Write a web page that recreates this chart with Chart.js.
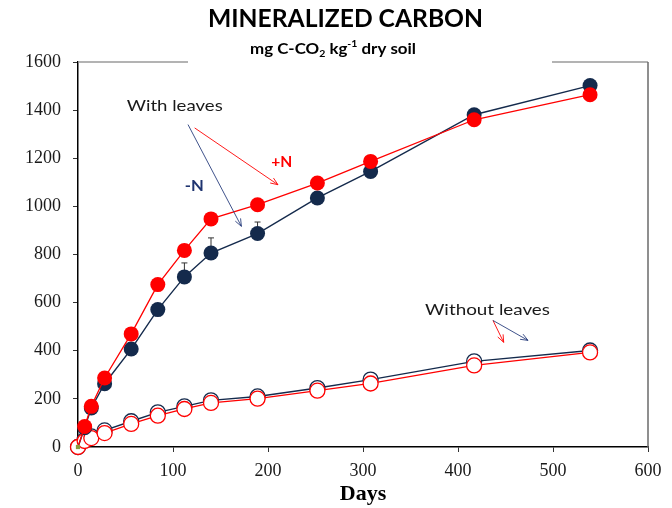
<!DOCTYPE html>
<html><head><meta charset="utf-8">
<script src="https://cdn.jsdelivr.net/npm/chart.js@4"></script>
<style>html,body{margin:0;padding:0;background:#fff}#wrap{width:672px;height:508px;position:relative}</style>
</head><body><div id="wrap"><canvas id="c"></canvas></div>
<script>
// ---- data ----
const days = [0, 7, 14, 28, 56, 84, 112, 140, 189, 252, 308, 417, 539];
const withLeavesMinusN = [0, 80, 162, 263, 407, 571, 707, 806, 887, 1035, 1145, 1381, 1502];
const withLeavesPlusN  = [0, 85, 169, 287, 470, 675, 817, 948, 1007, 1097, 1187, 1360, 1464];
const withoutLeavesMinusN = [0, 30, 44, 69, 107, 144, 169, 194, 210, 245, 280, 356, 401];
const withoutLeavesPlusN  = [0, 25, 37, 58, 96, 130, 158, 183, 201, 234, 264, 339, 393];
const errWithLeavesMinusN = [0, 0, 0, 0, 0, 0, 58, 63, 48, 0, 0, 0, 0];
const xTicks = [0, 100, 200, 300, 400, 500, 600];
const yTicks = [0, 200, 400, 600, 800, 1000, 1200, 1400, 1600];
const titleText = 'MINERALIZED CARBON';
const xTitle = 'Days';

const RED = '#ff0000', NAVY = '#142a4c';
const pts = arr => days.map((d, i) => ({x: d, y: arr[i]}));

function fitText(ctx, text, cx, base, width, font, color) {
  ctx.save();
  ctx.font = font; ctx.fillStyle = color; ctx.textBaseline = 'alphabetic'; ctx.textAlign = 'left';
  const w = ctx.measureText(text).width;
  const k = width / w;
  ctx.translate(cx - width / 2, base); ctx.scale(k, 1);
  ctx.fillText(text, 0, 0);
  ctx.restore();
}
function arrow(ctx, x1, y1, x2, y2, color) {
  ctx.save();
  ctx.strokeStyle = color; ctx.lineWidth = 0.9;
  ctx.beginPath(); ctx.moveTo(x1, y1); ctx.lineTo(x2, y2); ctx.stroke();
  const a = Math.atan2(y2 - y1, x2 - x1), L = 8, s = 0.38;
  ctx.beginPath();
  ctx.moveTo(x2 - L * Math.cos(a - s), y2 - L * Math.sin(a - s));
  ctx.lineTo(x2, y2);
  ctx.lineTo(x2 - L * Math.cos(a + s), y2 - L * Math.sin(a + s));
  ctx.stroke();
  ctx.restore();
}

const decor = {
  id: 'decor',
  beforeDatasetsDraw(chart) {
    const {ctx, chartArea: a, scales: {x, y}} = chart;
    ctx.save();
    // top border (interrupted by subtitle) and right border
    ctx.strokeStyle = '#9a9a9a'; ctx.lineWidth = 1.5;
    ctx.beginPath();
    ctx.moveTo(a.left, a.top); ctx.lineTo(188, a.top);
    ctx.moveTo(552, a.top); ctx.lineTo(a.right, a.top);
    ctx.stroke();
    ctx.strokeStyle = '#6a6a6a';
    ctx.beginPath(); ctx.moveTo(a.right, a.top); ctx.lineTo(a.right, a.bottom); ctx.stroke();
    // error bars
    ctx.strokeStyle = '#333'; ctx.lineWidth = 1;
    days.forEach((d, i) => {
      const e = errWithLeavesMinusN[i];
      if (!e) return;
      const px = x.getPixelForValue(d);
      const y0 = y.getPixelForValue(withLeavesMinusN[i]);
      const y1 = y.getPixelForValue(withLeavesMinusN[i] + e);
      ctx.beginPath(); ctx.moveTo(px, y0); ctx.lineTo(px, y1);
      ctx.moveTo(px - 3, y1); ctx.lineTo(px + 3, y1); ctx.stroke();
    });
    ctx.restore();
  },
  afterDatasetsDraw(chart) {
    const {ctx, scales: {x, y}} = chart;
    const X = v => x.getPixelForValue(v), Y = v => y.getPixelForValue(v);
    // annotations (data coordinates)
    fitText(ctx, 'With leaves', X(101.8), Y(1423) + 6, 96, '15px Lato', '#1a1a1a');
    arrow(ctx, X(115.8), Y(1340), X(172), Y(917), '#2a3f7e');
    arrow(ctx, X(122.8), Y(1326), X(210.5), Y(1090), RED);
    fitText(ctx, '+N', X(214.4), Y(1187) + 6, 21, 'bold 16px Lato', RED);
    fitText(ctx, '-N', X(122.3), Y(1090) + 6, 19, 'bold 16px Lato', '#1f3470');
    fitText(ctx, 'Without leaves', X(431), Y(574) + 6, 125, '15px Lato', '#1a1a1a');
    arrow(ctx, X(436.8), Y(526), X(448.1), Y(435), RED);
    arrow(ctx, X(436.8), Y(526), X(473.7), Y(443), '#2a3f7e');
  },
  afterDraw(chart) {
    const {ctx} = chart;
    fitText(ctx, titleText, 345.5, 27, 275, 'bold 25px Lato', '#000');
    // subtitle with sub/superscripts
    ctx.save();
    const parts = [
      {t: 'mg C-CO', f: 'bold 16px Lato', dy: 0},
      {t: '2', f: 'bold 10px Lato', dy: 3},
      {t: ' kg', f: 'bold 16px Lato', dy: 0},
      {t: '-1', f: 'bold 10px Lato', dy: -7},
      {t: ' dry soil', f: 'bold 16px Lato', dy: 0}
    ];
    let total = 0;
    parts.forEach(p => { ctx.font = p.f; p.w = ctx.measureText(p.t).width; total += p.w; });
    const k = 166 / total;
    ctx.translate(333 - 83, 54); ctx.scale(k, 1);
    ctx.fillStyle = '#000'; ctx.textBaseline = 'alphabetic';
    let cx = 0;
    parts.forEach(p => { ctx.font = p.f; ctx.fillText(p.t, cx, p.dy); cx += p.w; });
    ctx.restore();
  }
};

const common = {showLine: true, clip: false, pointHoverRadius: 7.5};
new Chart(document.getElementById('c'), {
  type: 'scatter',
  data: {
    datasets: [
      {label: 'origin', data: [{x: days[0], y: 0}], pointStyle: 'rect', pointRadius: 3,
       backgroundColor: '#8a9a3c', borderColor: '#7a8a30', borderWidth: 0, showLine: false, clip: false},
      {...common, label: 'With leaves +N', data: pts(withLeavesPlusN), borderColor: RED, borderWidth: 1.3,
       pointBackgroundColor: RED, pointBorderColor: RED, pointBorderWidth: 0,
       pointRadius: c => c.dataIndex === 0 ? 0 : 7.5},
      {...common, label: 'With leaves -N', data: pts(withLeavesMinusN), borderColor: NAVY, borderWidth: 1.4,
       pointBackgroundColor: NAVY, pointBorderColor: NAVY, pointBorderWidth: 0,
       pointRadius: c => c.dataIndex === 0 ? 0 : 7.5},
      {...common, label: 'Without leaves +N', data: pts(withoutLeavesPlusN), borderColor: RED, borderWidth: 1.3,
       pointBackgroundColor: '#fff', pointBorderColor: RED, pointBorderWidth: 1.3, pointRadius: 7.5},
      {...common, label: 'Without leaves -N', data: pts(withoutLeavesMinusN), borderColor: NAVY, borderWidth: 1.4,
       pointBackgroundColor: '#fff', pointBorderColor: NAVY, pointBorderWidth: 1.3, pointRadius: 7.5}
    ]
  },
  options: {
    responsive: true, maintainAspectRatio: false, animation: false,
    layout: {padding: {top: 62, right: 24, left: 0, bottom: 0}},
    plugins: {legend: {display: false}, tooltip: {enabled: false}, title: {display: false}},
    scales: {
      x: {
        type: 'linear', min: 0, max: 600,
        afterBuildTicks: s => { s.ticks = xTicks.map(v => ({value: v})); },
        afterFit: s => { s.height = 61; },
        border: {color: '#000', width: 1.5},
        grid: {drawOnChartArea: false, drawTicks: true, tickLength: 5, tickColor: '#333', lineWidth: 1},
        ticks: {font: {family: 'Liberation Serif', size: 18}, color: '#1a1a1a', padding: 8, maxRotation: 0,
                callback: v => String(v)},
        title: {display: true, text: xTitle, font: {family: 'Liberation Serif', size: 22, weight: 'bold'},
                color: '#000', padding: {top: 0, bottom: 0}}
      },
      y: {
        type: 'linear', min: 0, max: 1600,
        afterBuildTicks: s => { s.ticks = yTicks.map(v => ({value: v})); },
        afterFit: s => { s.width = 78; },
        border: {color: '#000', width: 1.5},
        grid: {drawOnChartArea: false, drawTicks: true, tickLength: 5, tickColor: '#333', lineWidth: 1},
        ticks: {font: {family: 'Liberation Serif', size: 18}, color: '#1a1a1a', padding: 12,
                callback: v => String(v)}
      }
    }
  },
  plugins: [decor]
});
</script></body></html>
